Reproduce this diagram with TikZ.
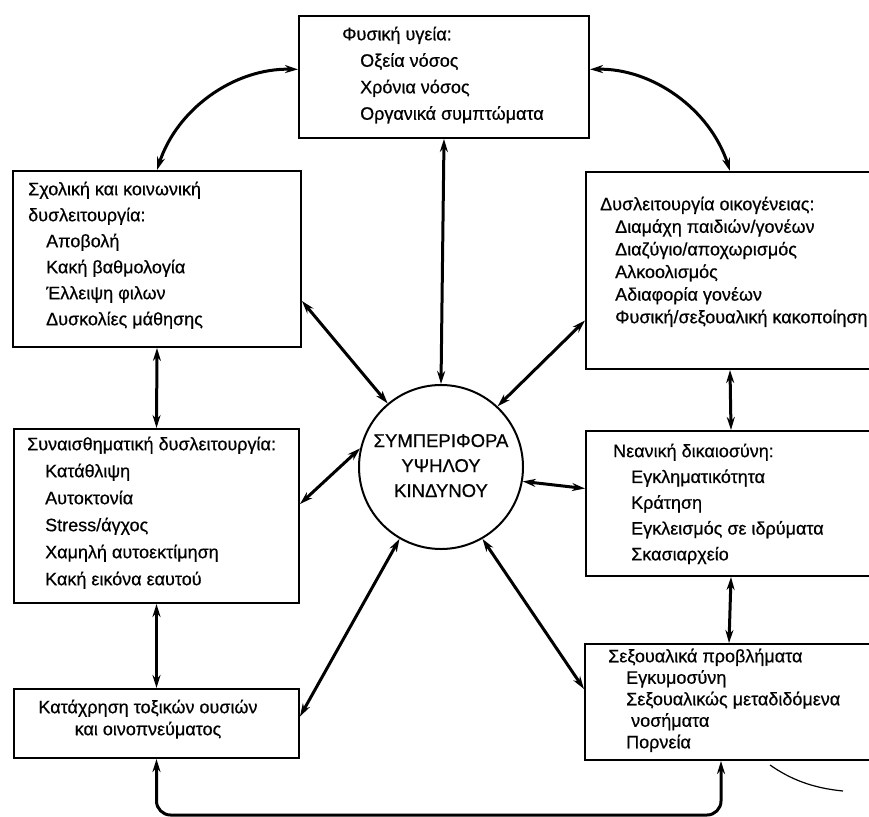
\documentclass[tikz,border=0pt]{standalone}
\usepackage{fontspec}
\setmainfont{Liberation Sans}[FakeBold=0.6]
\usepackage{tikz}
\usetikzlibrary{positioning,arrows.meta}
\newcommand{\ind}{\hspace*{18pt}}

\begin{document}
\begin{tikzpicture}[
    x=1pt, y=-1pt,
    panel/.style={
        draw,
        rectangle,
        line width=2pt,
        inner sep=0pt,
        anchor=north west
    },
    txt/.style={
        inner sep=0pt,
        align=left,
        font=\fontsize{18}{#1}\selectfont
    },
    txt/.default=26,
    risk node/.style={
        circle,
        draw,
        line width=2pt,
        minimum size=164pt,
        inner sep=0pt,
        align=center,
        font=\fontsize{18.5}{25}\selectfont
    },
    link/.style={{Stealth[length=13pt,width=8pt]}-{Stealth[length=13pt,width=8pt]}, line width=3pt}
]
\useasboundingbox (0,0) rectangle (869,816);

\node[panel, minimum width=290pt, minimum height=122pt] (health) at (298,15) {};
\node[panel, minimum width=288pt, minimum height=176pt] (school) at (12,170) {};
\node[panel, minimum width=285pt, minimum height=174pt] (emo) at (13,428) {};
\node[panel, minimum width=285pt, minimum height=69pt] (subst) at (13,688) {};
\node[panel, minimum width=288pt, minimum height=197pt] (fam) at (585,171) {};
\node[panel, minimum width=290pt, minimum height=145pt] (just) at (585,430) {};
\node[panel, minimum width=288pt, minimum height=116pt] (sex) at (584,643) {};

\node[risk node] (risk) at (441,467) {\strut ΣΥΜΠΕΡΙΦΟΡΑ\\ \strut ΥΨΗΛΟΥ\\ \strut ΚΙΝΔΥΝΟΥ};

\node[txt=26.5, below right=6.5pt and 44pt of health.north west] (healthtxt)
    {\strut Φυσική υγεία:\\ \ind Οξεία νόσος\\ \ind Χρόνια νόσος\\ \ind Οργανικά συμπτώματα};
\node[txt, below right=6.8pt and 16pt of school.north west] (schooltxt)
    {\strut Σχολική και κοινωνική\\ δυσλειτουργία:\\ \ind Αποβολή\\ \ind Κακή βαθμολογία\\ \ind Έλλειψη φιλων\\ \ind Δυσκολίες μάθησης};
\node[txt=27, below right=3.1pt and 14pt of emo.north west] (emotxt)
    {\strut Συναισθηματική δυσλειτουργία:\\ \ind Κατάθλιψη\\ \ind Αυτοκτονία\\ \ind Stress/άγχος\\ \ind Χαμηλή αυτοεκτίμηση\\ \ind Κακή  εικόνα εαυτού};
\node[txt=22, align=center, below=9.6pt of subst.north, xshift=-8.5pt] (substtxt)
    {\strut Κατάχρηση τοξικών ουσιών\\ και οινοπνεύματος};
\node[txt=22.6, below right=23.2pt and 15pt of fam.north west] (famtxt)
    {\strut Δυσλειτουργία οικογένειας:\\ \hspace*{15pt}Διαμάχη παιδιών/γονέων\\ \hspace*{15pt}Διαζύγιο/αποχωρισμός\\ \hspace*{15pt}Αλκοολισμός\\ \hspace*{15pt}Αδιαφορία γονέων\\ \hspace*{15pt}Φυσική/σεξουαλική κακοποίηση};
\node[txt=25.8, below right=8.9pt and 28pt of just.north west] (justtxt)
    {\strut Νεανική δικαιοσύνη:\\ \ind Εγκληματικότητα\\ \ind Κράτηση\\ \ind Εγκλεισμός σε ιδρύματα\\ \ind Σκασιαρχείο};
\node[txt=21.5, below right=4pt and 24pt of sex.north west] (sextxt)
    {\strut Σεξουαλικά προβλήματα\\ \ind Εγκυμοσύνη\\ \ind Σεξουαλικώς μεταδιδόμενα\\ \hspace*{23pt}νοσήματα\\ \ind Πορνεία};

\draw[link] (health.south) -- (risk.north);
\draw[link] (health.177) .. controls (234,68) and (177,109) .. (school.north);
\draw[link] (health.3) .. controls (652,68) and (710,109) .. (fam.north);

\draw[link] ([yshift=-42pt]school.east) -- (risk.130);
\draw[link] ([yshift=-50pt]fam.west) -- (risk.47);
\draw[link] ([yshift=12pt]emo.east) -- (risk.167);
\draw[link] (risk.-10) -- ([yshift=15pt]just.west);
\draw[link] ([yshift=7pt]subst.east) -- (risk.240);
\draw[link] ([yshift=13pt]sex.west) -- (risk.300);

\draw[link] (school.south) -- (emo.north);
\draw[link] (emo.south) -- (subst.north);
\draw[link] (fam.south) -- (just.north);
\draw[link] (just.south) -- (sex.north);
\draw[link, rounded corners=14pt] (subst.south) -- ++(0,56) -| ([xshift=-8pt]sex.south);

\draw[line width=1.2pt] (770,765) .. controls (790,779) and (812,788) .. (843,791);

\end{tikzpicture}
\end{document}
